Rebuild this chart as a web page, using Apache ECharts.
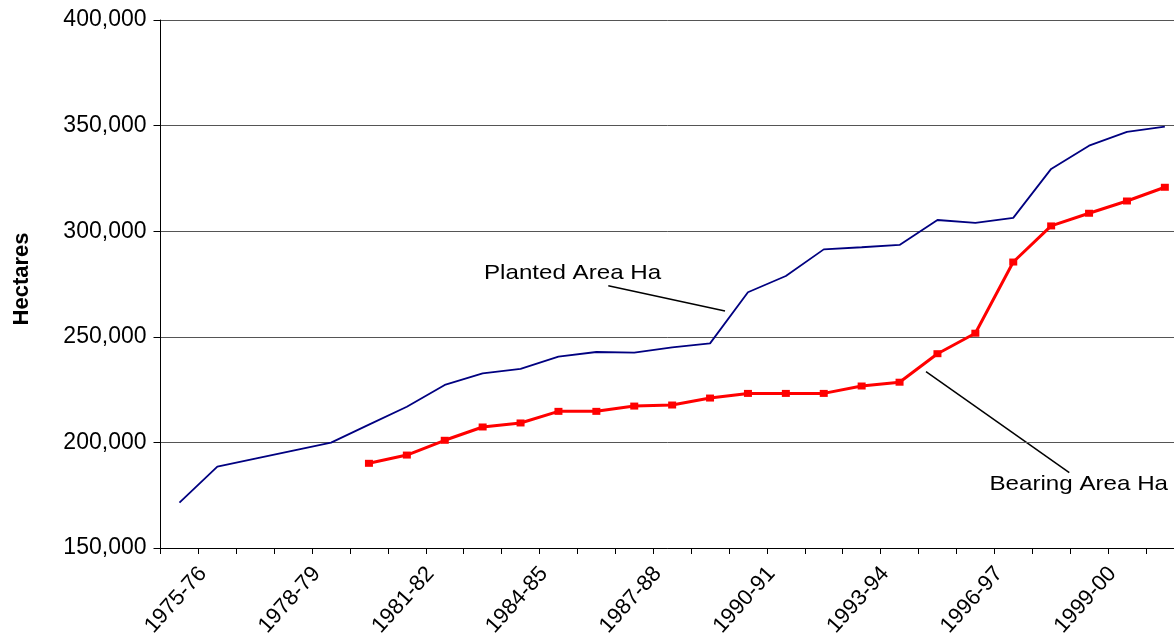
<!DOCTYPE html>
<html>
<head>
<meta charset="utf-8">
<script src="https://cdn.jsdelivr.net/npm/echarts@6/dist/echarts.min.js"></script>
<style>
html,body{margin:0;padding:0;background:#fff;}
#main{width:1174px;height:641px;}
</style>
</head>
<body>
<div id="main"></div>
<script>
const categories = ['1975-76','1976-77','1977-78','1978-79','1979-80','1980-81','1981-82','1982-83','1983-84','1984-85','1985-86','1986-87','1987-88','1988-89','1989-90','1990-91','1991-92','1992-93','1993-94','1994-95','1995-96','1996-97','1997-98','1998-99','1999-00','2000-01','2001-02'];
const plantedArea = [171500,188500,192300,196100,199900,208400,216900,227200,232700,234800,240600,242800,242500,245000,246900,271100,278800,291400,292400,293500,305300,303900,306300,329500,340500,347000,349500];
const bearingArea = ['-','-','-','-','-',190100,194000,201000,207300,209200,214700,214700,217200,217700,221000,223200,223200,223200,226700,228500,242000,251700,285400,302500,308500,314300,320800];
const yTicks = {min:150000, max:400000, interval:50000};
const seriesNames = ['Planted Area Ha','Bearing Area Ha'];
const yTitle = 'Hectares';

const FONT = '"Liberation Sans", Arial, sans-serif';
const chart = echarts.init(document.getElementById('main'), null, {renderer:'canvas'});
const fmt = v => v.toLocaleString('en-US');
const PLOT_W = 1023.3;

const option = {
  backgroundColor:'#fff',
  animation:false,
  grid:[
    {left:160.5, width:PLOT_W, top:20, bottom:93, containLabel:false, outerBoundsMode:'none'},
    {left:184, width:PLOT_W, top:20, bottom:93, containLabel:false, outerBoundsMode:'none'}
  ],
  xAxis:[
    {
      type:'category', gridIndex:0, data:categories, boundaryGap:true,
      axisLine:{show:true, lineStyle:{color:'#000', width:1}},
      axisTick:{show:true, interval:0, length:6, inside:false, lineStyle:{color:'#000'}},
      axisLabel:{show:false},
      splitLine:{show:false}
    },
    {
      type:'category', gridIndex:1, data:categories, boundaryGap:true,
      axisLine:{show:false}, axisTick:{show:false}, splitLine:{show:false},
      axisLabel:{show:true, interval:2, rotate:48, margin:22, color:'#000', fontSize:22, fontFamily:FONT, hideOverlap:false}
    }
  ],
  yAxis:[
    {
      type:'value', gridIndex:0, min:yTicks.min, max:yTicks.max, interval:yTicks.interval,
      name:yTitle, nameLocation:'middle', nameGap:128, nameRotate:90,
      nameTextStyle:{color:'#000', fontSize:22, fontWeight:'bold', fontFamily:FONT, padding:[0,0,0,10]},
      axisLine:{show:true, lineStyle:{color:'#000', width:1}},
      axisTick:{show:true, length:7, lineStyle:{color:'#000'}},
      axisLabel:{show:true, margin:14, color:'#000', fontSize:23, fontFamily:FONT, formatter:fmt},
      splitLine:{show:true, lineStyle:{color:'#555', width:1}}
    },
    {
      type:'value', gridIndex:1, min:yTicks.min, max:yTicks.max, show:false
    }
  ],
  series:[
    {
      name:seriesNames[0], type:'line', xAxisIndex:0, yAxisIndex:0, data:plantedArea,
      showSymbol:false, symbol:'none', lineStyle:{color:'#000080', width:1.8}, itemStyle:{color:'#000080'}
    },
    {
      name:seriesNames[1], type:'line', xAxisIndex:0, yAxisIndex:0, data:bearingArea,
      symbol:'rect', symbolSize:[8,7], showSymbol:true, connectNulls:false,
      lineStyle:{color:'#ff0000', width:3}, itemStyle:{color:'#ff0000'}
    }
  ],
  graphic:[
    {type:'text', x:484, y:273.5, scaleX:1.15, style:{text:seriesNames[0], font:'21px '+FONT, fill:'#000', textAlign:'left', textVerticalAlign:'middle'}},
    {type:'line', shape:{x1:608.3, y1:285.7, x2:725, y2:311}, style:{stroke:'#000', lineWidth:1.5}},
    {type:'text', x:1168, y:484, scaleX:1.15, style:{text:seriesNames[1], font:'21px '+FONT, fill:'#000', textAlign:'right', textVerticalAlign:'middle'}},
    {type:'line', shape:{x1:926, y1:371.7, x2:1069.3, y2:472.7}, style:{stroke:'#000', lineWidth:1.5}}
  ]
};
chart.setOption(option);
</script>
</body>
</html>
